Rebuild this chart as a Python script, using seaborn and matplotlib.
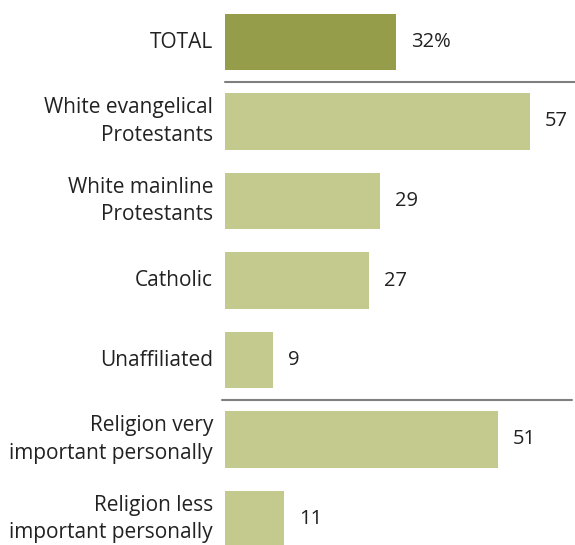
import matplotlib
matplotlib.use("Agg")
import matplotlib.pyplot as plt
import seaborn as sns
import pandas as pd
from matplotlib.transforms import offset_copy

categories = ["TOTAL", "White evangelical\nProtestants", "White mainline\nProtestants",
              "Catholic", "Unaffiliated", "Religion very\nimportant personally",
              "Religion less\nimportant personally"]
values = [32, 57, 29, 27, 9, 51, 11]
value_labels = ["32%", "57", "29", "27", "9", "51", "11"]
bar_colors = ["#959c4a", "#c4c98d", "#c4c98d", "#c4c98d", "#c4c98d", "#c4c98d", "#c4c98d"]

sns.set_theme(style="white")
plt.rcParams['font.family'] = ['Open Sans', 'DejaVu Sans']

df = pd.DataFrame({"cat": categories, "val": values})

fig = plt.figure(figsize=(5.75, 5.45), dpi=100)
ax = fig.add_axes([225/575, 0, 350/575, 1])
sns.barplot(data=df, y="cat", x="val", hue="cat", palette=bar_colors, orient="h",
            width=0.705, legend=False, ax=ax, saturation=1, edgecolor="none")

ax.set_xlim(0, 350/5.35)
ax.set_ylim(6 + 26/79.5, -42/79.5)
ax.axis("off")

# category labels
lab_tr = offset_copy(ax.transData, fig=fig, x=-12, y=0, units="dots")
for i, c in enumerate(categories):
    ax.text(0, i, c, transform=lab_tr, ha="right", va="center", fontsize=15,
            color="#222222", linespacing=1.4, clip_on=False)

val_tr = offset_copy(ax.transData, fig=fig, x=15, y=0, units="dots")
for i, (v, l) in enumerate(zip(values, value_labels)):
    ax.text(v, i, l, transform=val_tr, ha="left", va="center", fontsize=14.5,
            color="#222222", clip_on=False)

# separator lines
ax.plot([0, 1], [0.5, 0.5], transform=ax.get_yaxis_transform(), color="#7f7f7f",
        lw=1.5, clip_on=False)
ax.plot([-0.5, 64.8], [4.5, 4.5], color="#7f7f7f", lw=1.5, clip_on=False)

fig.savefig("out.png", dpi=100)
